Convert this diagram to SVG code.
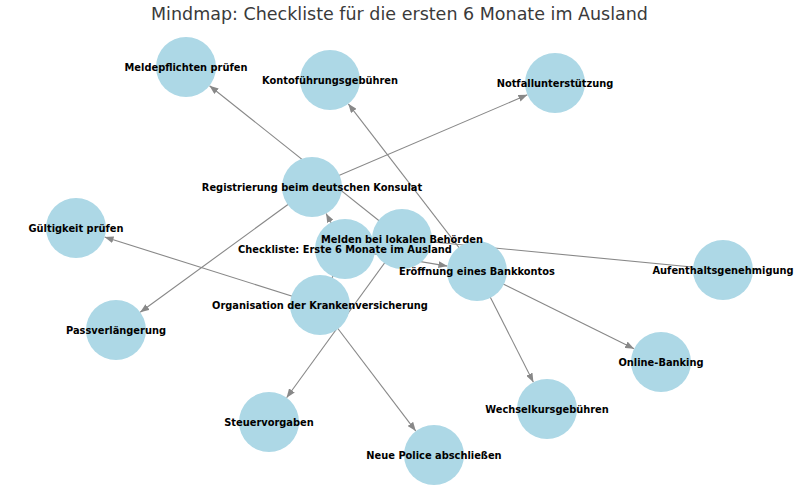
<svg xmlns="http://www.w3.org/2000/svg" width="799" height="503" viewBox="0 0 799 503">
<style>
.n{fill:#ADD8E6}
.l{font-family:"DejaVu Sans",sans-serif;font-weight:bold;font-size:9.85px;fill:#000;text-anchor:middle;dominant-baseline:central}
.e{stroke:#888888;stroke-width:1.1;fill:none}
.t{font-family:"DejaVu Sans",sans-serif;font-size:17.5px;fill:#3a3a3a;text-anchor:middle}
</style>
<defs>
<marker id="a" markerUnits="userSpaceOnUse" markerWidth="9" markerHeight="7" refX="9" refY="3.5" orient="auto">
<path d="M0,0 L9,3.5 L0,7 z" fill="#888888"/>
</marker>
</defs>
<rect width="799" height="503" fill="#fff"/>
<text class="t" x="399.5" y="20">Mindmap: Checkliste für die ersten 6 Monate im Ausland</text>
<g id="edges">
<line class="e" x1="345" y1="249" x2="326.1" y2="213.5" marker-end="url(#a)"/>
<line class="e" x1="345" y1="249" x2="372.5" y2="244.2"/>
<line class="e" x1="345" y1="249" x2="447.4" y2="266.1" marker-end="url(#a)"/>
<line class="e" x1="345" y1="249" x2="320" y2="305"/>
<line class="e" x1="402" y1="239" x2="209.5" y2="85.7" marker-end="url(#a)"/>
<line class="e" x1="477" y1="271" x2="348.3" y2="103.8" marker-end="url(#a)"/>
<line class="e" x1="312" y1="187" x2="527.4" y2="94.8" marker-end="url(#a)"/>
<line class="e" x1="312" y1="187" x2="140.2" y2="312.3" marker-end="url(#a)"/>
<line class="e" x1="320" y1="305" x2="104.6" y2="237" marker-end="url(#a)"/>
<line class="e" x1="402" y1="239" x2="286.6" y2="397.7" marker-end="url(#a)"/>
<line class="e" x1="320" y1="305" x2="415.8" y2="431.1" marker-end="url(#a)"/>
<line class="e" x1="402" y1="239" x2="723" y2="270"/>
<line class="e" x1="477" y1="271" x2="634.1" y2="348.7" marker-end="url(#a)"/>
<line class="e" x1="477" y1="271" x2="533.4" y2="382.2" marker-end="url(#a)"/>
</g>
<g id="n-meldepflichten"><circle class="n" cx="186" cy="67" r="30"/></g>
<g id="n-konto"><circle class="n" cx="330" cy="80" r="30"/></g>
<g id="n-notfall"><circle class="n" cx="555" cy="83" r="30"/></g>
<g id="n-registrierung"><circle class="n" cx="312" cy="187" r="30"/></g>
<g id="n-gueltigkeit"><circle class="n" cx="76" cy="228" r="30"/></g>
<g id="n-checkliste"><circle class="n" cx="345" cy="249" r="30"/></g>
<g id="n-melden"><circle class="n" cx="402" cy="239" r="30"/></g>
<g id="n-eroeffnung"><circle class="n" cx="477" cy="271" r="30"/></g>
<g id="n-aufenthalt"><circle class="n" cx="723" cy="270" r="30"/></g>
<g id="n-organisation"><circle class="n" cx="320" cy="305" r="30"/></g>
<g id="n-pass"><circle class="n" cx="116" cy="330" r="30"/></g>
<g id="n-online"><circle class="n" cx="661" cy="362" r="30"/></g>
<g id="n-wechsel"><circle class="n" cx="547" cy="409" r="30"/></g>
<g id="n-steuer"><circle class="n" cx="269" cy="422" r="30"/></g>
<g id="n-police"><circle class="n" cx="434" cy="455" r="30"/></g>
<g id="labels">
<text class="l" x="186" y="67">Meldepflichten prüfen</text>
<text class="l" x="330" y="80">Kontoführungsgebühren</text>
<text class="l" x="555" y="83">Notfallunterstützung</text>
<text class="l" x="312" y="187">Registrierung beim deutschen Konsulat</text>
<text class="l" x="76" y="228">Gültigkeit prüfen</text>
<text class="l" x="345" y="249">Checkliste: Erste 6 Monate im Ausland</text>
<text class="l" x="402" y="239">Melden bei lokalen Behörden</text>
<text class="l" x="477" y="271">Eröffnung eines Bankkontos</text>
<text class="l" x="723" y="270">Aufenthaltsgenehmigung</text>
<text class="l" x="320" y="305">Organisation der Krankenversicherung</text>
<text class="l" x="116" y="330">Passverlängerung</text>
<text class="l" x="661" y="362">Online-Banking</text>
<text class="l" x="547" y="409">Wechselkursgebühren</text>
<text class="l" x="269" y="422">Steuervorgaben</text>
<text class="l" x="434" y="455">Neue Police abschließen</text>
</g>
</svg>
